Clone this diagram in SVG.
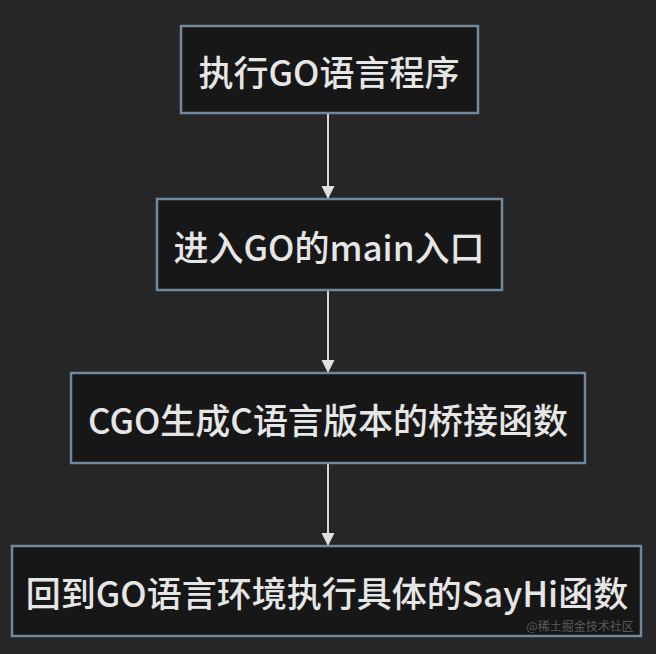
<svg xmlns="http://www.w3.org/2000/svg" width="656" height="654" viewBox="0 0 656 654">
<style>
.box{fill:#171717;stroke:#71879a;stroke-width:2.5}
.t{font-family:"Noto Sans CJK SC","Open Sans",sans-serif;font-size:35px;font-weight:500;fill:#e6e6e6;text-anchor:middle;dominant-baseline:central}
.c{stroke:#d8d8d8;stroke-width:2;fill:none;marker-end:url(#a)}
</style>
<defs><marker id="a" viewBox="0 0 10 10" refX="10" refY="5" markerWidth="13" markerHeight="14" markerUnits="userSpaceOnUse" orient="auto"><path d="M0,0L10,5L0,10z" fill="#e0e0e0"/></marker></defs>
<rect width="656" height="654" fill="#262626"/>
<g id="connectors">
<line class="c" x1="328" y1="113" x2="328" y2="199"/>
<line class="c" x1="328" y1="290" x2="328" y2="373"/>
<line class="c" x1="328" y1="463" x2="328" y2="546"/>
</g>
<g id="n1"><rect class="box" x="181" y="26" width="297" height="87"/><text class="t" x="329" y="70">执行GO语言程序</text></g>
<g id="n2"><rect class="box" x="157" y="199" width="345" height="91"/><text class="t" x="329" y="245">进入GO的main入口</text></g>
<g id="n3"><rect class="box" x="71" y="373" width="514" height="90"/><text class="t" x="328" y="418">CGO生成C语言版本的桥接函数</text></g>
<g id="n4"><rect class="box" x="12" y="546" width="629" height="90"/><text class="t" x="327" y="591">回到GO语言环境执行具体的SayHi函数</text></g>
<text x="580" y="631" font-family="Noto Sans CJK SC,sans-serif" font-size="12" fill="#5a5a5a" text-anchor="middle">@稀土掘金技术社区</text>
</svg>
